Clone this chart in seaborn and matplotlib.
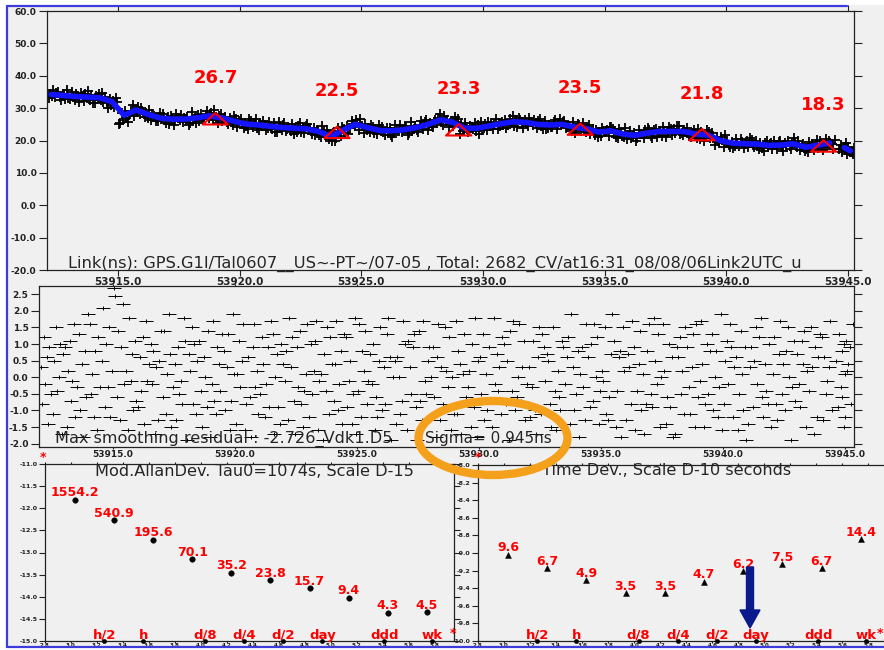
import numpy as np
import pandas as pd
import seaborn as sns
import matplotlib.pyplot as plt
from matplotlib import patches
from matplotlib.lines import Line2D
from matplotlib.path import Path

# smoothed link (ns), one knot every half day, plus the short tail after the gap
smooth_mjd = list(np.arange(53912.25, 53944.3, 0.5)) + [53944.85, 53945.1]
smooth_ns = [34.2, 33.9, 33.6, 33.4, 33.2, 32.0, 27.8, 29.4, 28.0, 26.9,
             26.6, 26.6, 27.0, 27.6, 27.0, 26.0, 25.1, 24.8, 24.4, 24.0,
             23.8, 23.6, 22.8, 21.2, 23.2, 25.0, 24.0, 23.1, 23.0, 23.3,
             24.0, 25.0, 26.4, 25.6, 23.8, 23.8, 24.5, 25.2, 25.8, 25.6,
             25.0, 24.8, 25.0, 24.2, 23.6, 22.6, 23.0, 22.0, 21.6, 22.3,
             22.8, 22.8, 22.8, 22.0, 21.7, 20.0, 19.2, 19.0, 18.9, 18.5,
             18.6, 19.0, 17.9, 18.5, 19.2, 17.8, 16.8]

# smoothing residuals (ns), eight CV points around each knot
pt_offsets = [-0.21, -0.15, -0.09, -0.03, 0.03, 0.09, 0.15, 0.21]
resid_ns = [
    0.3, -0.8, 1.2, -0.2, 0.6, -1.4, 0.9, -0.5,
    -1.1, 0.5, 1.5, -0.4, 0.0, 1.0, -1.7, 0.7,
    0.9, -1.5, 0.2, 1.1, -0.7, -0.1, 1.6, -1.2,
    -0.3, 1.3, -1.0, 0.4, -1.8, 0.8, -0.6, 1.9,
    1.6, -0.5, 0.1, -1.2, 0.8, -1.6, 1.2, -0.3,
    0.5, 2.1, -0.9, 1.0, -0.3, 1.5, -1.2, 0.2,
    2.7, 2.45, -0.6, 1.4, -1.3, 0.9, 2.2, -0.2,
    0.2, -1.6, 1.8, -0.1, 0.7, -1.0, 1.1, -0.7,
    -0.9, 0.6, -0.4, 1.2, -1.4, 1.7, -0.1, 0.4,
    1.0, -0.2, 0.8, -1.7, 0.3, -1.3, 0.5, 1.4,
    -0.6, 1.4, -1.1, 0.1, 1.9, 0.7, -1.5, -0.3,
    0.4, -1.3, 0.9, -0.5, -0.1, -0.8, 1.8, 1.1,
    -1.9, 0.7, 0.2, 1.5, -0.8, 1.0, -1.1, 0.5,
    1.1, -0.4, -1.5, 0.6, 0.0, -0.9, 1.4, -1.8,
    -0.2, 1.7, -0.7, -1.1, 0.9, 0.4, -0.4, 1.3,
    0.8, -1.0, 0.3, 1.3, -1.6, -0.7, 1.9, 0.1,
    -1.4, 0.1, 1.1, -0.3, 0.5, 1.6, -1.6, -0.8,
    0.6, -0.6, -1.8, 0.9, 1.6, -0.3, 0.2, -1.1,
    -0.5, 1.2, 0.4, -1.2, -0.2, 0.9, -0.9, 1.7,
    1.3, -1.7, 0.0, 0.7, -0.9, -1.4, 1.0, 0.4,
    -0.1, 0.8, -1.3, 1.8, 0.3, 1.2, -0.7, -1.7,
    0.9, -0.3, 1.4, -0.8, -1.5, -0.4, 0.1, 1.6,
    -1.2, 1.0, -0.5, 0.2, 1.1, 1.7, -1.6, -0.1,
    0.1, -1.9, 0.7, -0.4, 1.5, -1.1, 1.2, 0.4,
    -0.7, 0.4, 1.7, -1.0, -0.2, 0.8, -1.4, 1.3,
    1.2, -0.9, -0.1, 0.5, -1.4, -0.5, 1.8, -1.7,
    -0.4, 1.6, -1.2, 0.8, 0.2, 1.4, -0.8, -0.1,
    0.7, -0.2, 1.0, -1.6, -0.6, -1.2, 0.5, 1.5,
    -1.0, 0.3, -0.8, 1.3, 1.8, 0.6, -1.9, 0.0,
    0.5, -1.4, 0.6, 0.0, -1.1, -0.7, 1.7, 1.0,
    -1.6, 1.1, 0.3, -0.5, 0.9, 1.3, -0.9, -1.9,
    1.4, -0.7, -1.3, 1.7, -0.1, -0.5, 0.5, 0.9,
    0.0, 0.9, -0.6, -1.8, 0.6, 1.6, -1.3, 0.3,
    -0.8, 1.5, 0.2, -0.3, 1.2, -1.6, 0.0, -1.1,
    1.7, -1.1, 0.8, 0.4, -1.7, 0.1, 1.3, -0.6,
    -0.3, 0.2, -1.5, 1.0, -0.9, 1.8, -1.8, 0.5,
    0.6, -0.5, 1.3, -1.3, 0.1, -1.0, 0.9, -0.7,
    -1.5, 1.8, -0.2, 0.7, -0.4, 0.3, -1.1, 1.2,
    1.0, -0.8, 0.5, -1.9, 1.4, -0.4, 1.7, -1.0,
    -0.6, 0.0, 1.6, -0.7, 0.3, 1.1, -1.3, -0.2,
    0.3, -1.2, -0.3, 1.1, -1.0, -1.7, 0.6, 1.5,
    -1.1, 1.3, 0.9, -0.1, 0.7, 0.5, -0.8, -1.5,
    1.5, -0.4, -1.6, 0.2, -0.6, -1.0, 1.1, 0.9,
    -0.2, 0.6, 1.2, -1.4, 1.9, 0.3, -1.0, -0.5,
    0.8, -1.8, 0.1, 0.9, -0.3, -1.3, 1.6, 0.6,
    -0.9, 1.0, -0.7, 1.6, 0.0, 1.2, -1.4, -0.4,
    0.2, -0.1, 1.5, -1.1, -1.3, -0.6, 0.7, 1.9,
    1.1, -1.5, -0.4, 0.6, 0.8, -1.8, 1.5, 0.2,
    -1.3, 0.7, 0.3, -0.8, 1.7, 0.9, -1.6, -0.4,
    0.4, 1.4, -1.0, 0.1, -1.7, -0.8, 0.8, 1.6,
    -0.5, -0.9, 1.8, 0.5, -0.2, 1.3, -1.5, 0.0,
    1.6, 0.2, -1.4, -0.6, 1.0, -0.9, 0.6, -1.8,
    -1.7, 0.9, 0.6, 1.2, -0.5, 0.2, -1.1, 1.5,
    0.9, -0.3, -1.1, 0.3, 1.3, -1.5, 1.6, -0.6,
    -0.1, 1.7, 0.4, -1.5, -0.8, 1.0, -0.5, 0.8,
    1.3, -1.0, 0.0, 0.8, -1.2, -0.3, 1.9, -1.6,
    -0.8, 0.5, 1.1, -0.2, 1.6, 0.9, -1.2, 0.3,
    0.6, -1.6, -0.5, 1.4, 0.1, -1.0, 0.9, -1.9,
    -1.4, 0.3, 0.9, -0.9, 0.5, 1.5, -0.2, 1.2,
    1.8, -0.6, -1.2, 0.4, -0.4, -0.8, 1.0, -1.5,
    0.1, 1.2, -0.8, -1.3, 0.7, 1.7, -0.5, 0.4,
    -1.0, 0.8, 1.5, 0.0, -1.9, -0.3, 1.1, -0.7,
    0.7, -0.2, -0.9, 1.1, 0.4, 1.4, -1.5, 0.2,
    -0.4, 1.5, 0.3, -1.7, 0.9, -1.2, 0.6, 1.3,
    1.2, -1.3, 0.6, -0.5, -0.1, 0.3, 1.7, -1.0,
    0.5, -0.9, 1.3, -0.3, 0.8, -1.5, 0.1, 1.1,
    -0.6, 1.0, -1.2, 0.2, 0.4, 0.9, -0.8, 1.6,
]

# 5-day averages
tri_mjd = [53919, 53924, 53929, 53934, 53939, 53944]
tri_ns = [26.7, 22.5, 23.3, 23.5, 21.8, 18.3]

# stability: MDEV (x1e-15) and TDEV (x1e-10 s) for tau = tau0 * 2^k
tau0 = 1074
mdev_e15 = [1554.2, 540.9, 195.6, 70.1, 35.2, 23.8, 15.7, 9.4, 4.3, 4.5]
tdev_e10 = [9.6, 6.7, 4.9, 3.5, 3.5, 4.7, 6.2, 7.5, 6.7, 14.4]
mark_names = ['h/2', 'h', 'd/8', 'd/4', 'd/2', 'day', 'ddd', 'wk']
mark_sec = [1800, 3600, 10800, 21600, 43200, 86400, 259200, 604800]

title_top = 'Link(ns): GPS.G1I/Tal0607__US~-PT~/07-05 , Total: 2682_CV/at16:31_08/08/06Link2UTC_u'
BG = '#f0f0f0'

n_knots = len(smooth_ns)
n_per = len(pt_offsets)
pts = pd.DataFrame({
    'mjd': np.repeat(smooth_mjd, n_per) + np.tile(pt_offsets, n_knots),
    'resid': resid_ns,
})
pts['link'] = np.repeat(smooth_ns, n_per) - pts['resid']
line = pd.DataFrame({'mjd': smooth_mjd, 'link': smooth_ns})
line['seg'] = np.where(line['mjd'] > 53944.5, 1, 0)

tau = [tau0 * 2 ** k for k in range(len(mdev_e15))]
stab = pd.DataFrame({
    'logtau': np.log10(tau),
    'mdev': np.log10(np.array(mdev_e15) * 1e-15),
    'tdev': np.log10(np.array(tdev_e10) * 1e-10),
})
log_marks = np.log10(mark_sec)

sns.set_theme(style='ticks')
plt.rcParams['font.family'] = ['DejaVu Sans']

fig = plt.figure(figsize=(8.84, 6.5), dpi=100, facecolor=BG)
ax_top = fig.add_axes([47 / 884, 1 - 270 / 650, 807 / 884, 259 / 650])
ax_mid = fig.add_axes([39 / 884, 1 - 447 / 650, 815 / 884, 161 / 650])
ax_l = fig.add_axes([45 / 884, 1 - 641 / 650, 409 / 884, 177 / 650])
ax_r = fig.add_axes([478 / 884, 1 - 641 / 650, 410 / 884, 176 / 650])


def style_axes(ax, length, xlen, xpad):
    ax.set_facecolor(BG)
    for s in ax.spines.values():
        s.set_color('#222222')
        s.set_linewidth(0.9)
    ax.tick_params(which='both', direction='out', top=True, right=True,
                   length=length, width=0.8, colors='#222222', pad=1.5)
    ax.tick_params(axis='x', length=xlen, pad=xpad)
    ax.set_xlabel('')
    ax.set_ylabel('')


wide_plus = Path([(-1, 0), (1, 0), (0, -0.35), (0, 0.35)],
                 [Path.MOVETO, Path.LINETO, Path.MOVETO, Path.LINETO])
flat_tri = Path([(-1, -0.45), (1, -0.45), (0, 0.45), (-1, -0.45)], closed=True)

# ---- top: link with smoothing ----
sns.scatterplot(data=pts, x='mjd', y='link', marker='+', s=60, color='black',
                linewidth=1.3, ax=ax_top, legend=False, zorder=2)
sns.lineplot(data=line, x='mjd', y='link', units='seg', estimator=None,
             color='#1414ff', lw=4, ax=ax_top, legend=False, zorder=3)
sns.scatterplot(x=tri_mjd, y=tri_ns, marker=flat_tri, s=330, facecolor='none',
                edgecolor='red', linewidth=1.5, ax=ax_top, legend=False, zorder=4)
for m, v in zip(tri_mjd, tri_ns):
    ax_top.annotate(f'{v:.1f}', (m, v), xytext=(0, 26), textcoords='offset points',
                    ha='center', va='baseline', color='red', fontsize=13,
                    fontweight='bold')
ax_top.set_xlim(53912.08, 53945.25)
ax_top.set_ylim(-20, 60)
xt = np.arange(53915, 53946, 5)
ax_top.set_xticks(xt, [f'{v:.1f}' for v in xt], fontsize=7.5, fontweight='bold')
yt = np.arange(-20, 61, 10)
ax_top.set_yticks(yt, [f'{v:.1f}' for v in yt], fontsize=6.5, fontweight='bold')
style_axes(ax_top, 6, 4, 1)
ax_top.text(0.026, 0.008, title_top, transform=ax_top.transAxes, fontsize=11.7,
            ha='left', va='baseline')

# ---- middle: residuals ----
sns.scatterplot(data=pts, x='mjd', y='resid', marker=wide_plus, s=90, color='black',
                edgecolor='black', linewidth=0.7, ax=ax_mid, legend=False)
ax_mid.set_xlim(53911.97, 53945.37)
ax_mid.set_ylim(-2.1, 2.75)
ax_mid.set_xticks(xt, [f'{v:.1f}' for v in xt], fontsize=6.5, fontweight='bold')
yt = np.arange(-2.0, 2.51, 0.5)
ax_mid.set_yticks(yt, [f'{v:.1f}' for v in yt], fontsize=6.5, fontweight='bold')
style_axes(ax_mid, 6, 1.5, 0.5)
ax_mid.text(0.0196, 0.025, 'Max smoothing residual : -2.726_Vdk1.D5',
            transform=ax_mid.transAxes, fontsize=11.6, va='baseline')
ax_mid.text(0.4736, 0.025, 'Sigma= 0.945ns', transform=ax_mid.transAxes,
            fontsize=11, va='baseline')

# ---- bottom left: MDEV ----
sns.scatterplot(data=stab, x='logtau', y='mdev', marker='o', s=16, color='black',
                edgecolor='black', ax=ax_l, legend=False)
for x, y, v in zip(stab['logtau'], stab['mdev'], mdev_e15):
    ax_l.annotate(f'{v:.1f}', (x, y), xytext=(0, 2.5), textcoords='offset points',
                  ha='center', va='baseline', color='red', fontsize=9,
                  fontweight='bold')
ax_l.set_xlim(2.8, 5.95)
ax_l.set_ylim(-15, -11)

# ---- bottom right: TDEV ----
sns.scatterplot(data=stab, x='logtau', y='tdev', marker='^', s=18, color='black',
                edgecolor='black', ax=ax_r, legend=False)
for x, y, v in zip(stab['logtau'], stab['tdev'], tdev_e10):
    ax_r.annotate(f'{v:.1f}', (x, y), xytext=(0, 2.5), textcoords='offset points',
                  ha='center', va='baseline', color='red', fontsize=9,
                  fontweight='bold')
ax_r.set_xlim(2.8, 5.95)
ax_r.set_ylim(-10, -8)

for ax, ylo, yhi, ystep, title, tx, ty in [
        (ax_l, -15, -11, 0.5, 'Mod.AllanDev. Tau0=1074s, Scale D-15', 0.513, 0.955),
        (ax_r, -10, -8, 0.2, 'Time Dev., Scale D-10 seconds', 0.461, 0.966)]:
    sns.scatterplot(x=log_marks, y=np.full(len(log_marks), float(ylo)), s=10,
                    color='black', edgecolor='black', ax=ax, legend=False,
                    clip_on=False, zorder=5)
    for x, name in zip(log_marks, mark_names):
        ax.annotate(name, (x, ylo), xytext=(0, 1.5), textcoords='offset points',
                    ha='center', va='baseline', color='red', fontsize=9.5,
                    fontweight='bold')
    xt2 = np.arange(2.8, 5.81, 0.2)
    ax.set_xticks(xt2, [f'{v:.1f}' for v in xt2], fontsize=4, fontweight='bold')
    yt2 = np.arange(ylo, yhi + 1e-6, ystep)
    ax.set_yticks(yt2, [f'{v:.1f}' for v in yt2], fontsize=4.5, fontweight='bold')
    style_axes(ax, 4, 1.2, 0.4)
    ax.text(tx, ty, title, transform=ax.transAxes, fontsize=11.6, ha='center',
            va='center')

# asterisks at the corners of the stability plots
for px, py in [(43, 457), (478, 457), (453, 633), (880, 633)]:
    fig.text(px / 884, 1 - py / 650, '*', color='red', fontsize=9,
             fontweight='bold', ha='center', va='center')

# highlight ellipse and arrow
fig.add_artist(patches.Ellipse((493 / 884, 1 - 438 / 650), 149 / 884, 74 / 650,
                               transform=fig.transFigure, fill=False,
                               edgecolor='#f5a01a', lw=6, zorder=10))
fig.add_artist(patches.FancyArrow(750 / 884, 1 - 567 / 650, 0, -61 / 650,
                                  width=7 / 884, head_width=20 / 884,
                                  head_length=18 / 650, length_includes_head=True,
                                  transform=fig.transFigure, color='#0a1a8c',
                                  zorder=10))

# white margin and blue frame
for rect in [(0, 0, 6 / 884, 1), (0, 1 - 5 / 650, 1, 5 / 650), (0, 0, 1, 2 / 650)]:
    fig.add_artist(patches.Rectangle(rect[:2], rect[2], rect[3], transform=fig.transFigure,
                                     facecolor='white', edgecolor='none', zorder=-1))
frame = dict(color='#3c3cdc', lw=1.6, transform=fig.transFigure, zorder=10)
fig.add_artist(Line2D([7 / 884, 7 / 884], [1 - 6 / 650, 1 - 647 / 650], **frame))
fig.add_artist(Line2D([7 / 884, 847 / 884], [1 - 6 / 650, 1 - 6 / 650], **frame))
fig.add_artist(Line2D([7 / 884, 1], [1 - 647 / 650, 1 - 647 / 650], **frame))

fig.savefig('out.png', dpi=100, facecolor=BG)
